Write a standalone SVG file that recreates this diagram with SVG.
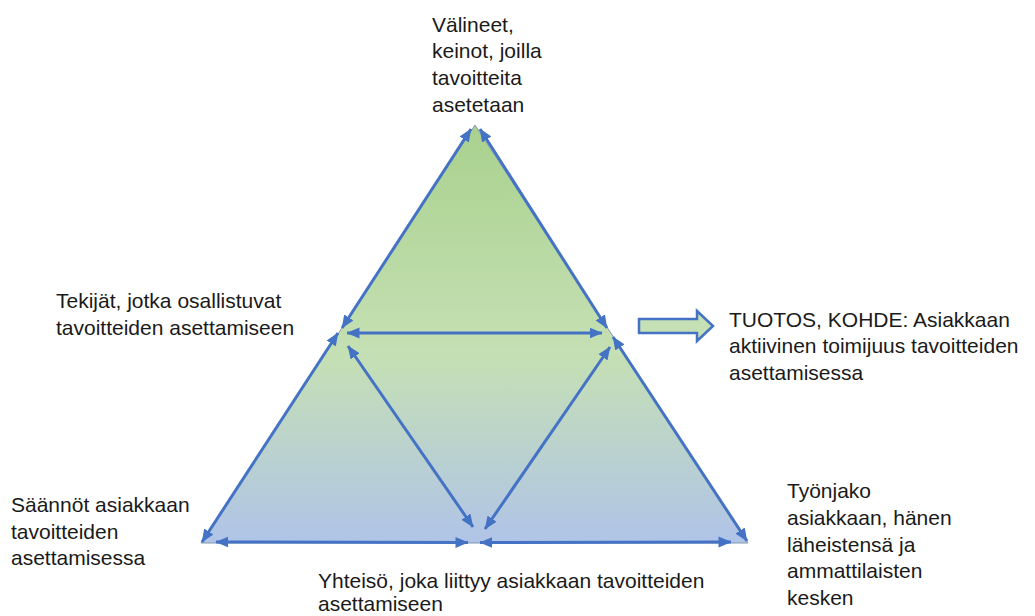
<svg xmlns="http://www.w3.org/2000/svg" width="1035" height="616" viewBox="0 0 1035 616">
  <style>
    .lbl { font-family: "Liberation Sans", Arial, sans-serif; font-size: 21px; fill: #1a1a1a; }
    .link { stroke: #4472c4; stroke-width: 3; fill: none; marker-start: url(#head); marker-end: url(#head); }
  </style>
  <defs>
    <linearGradient id="fillGrad" x1="0" y1="0" x2="0" y2="1">
      <stop offset="0" stop-color="#a9d18e"/>
      <stop offset="0.55" stop-color="#c5e0b4"/>
      <stop offset="1" stop-color="#b0c4e8"/>
    </linearGradient>
    <marker id="head" markerUnits="userSpaceOnUse" viewBox="0 0 13 12" markerWidth="13" markerHeight="12" refX="12.5" refY="6" orient="auto-start-reverse">
      <path d="M0,0.5 L13,6 L0,11.5 z" fill="#4472c4"/>
    </marker>
  </defs>

  <rect width="1035" height="616" fill="#ffffff"/>

  <!-- activity triangle -->
  <g id="triangle">
    <polygon points="475,125 201,543 748,543" fill="url(#fillGrad)" stroke="#8497b0" stroke-width="1"/>
  </g>

  <!-- relations between the corners and edge midpoints -->
  <g id="connectors">
    <line class="link" x1="471" y1="129" x2="342" y2="328"/>
    <line class="link" x1="480" y1="129" x2="607" y2="328"/>
    <line class="link" x1="338" y1="333" x2="202" y2="542"/>
    <line class="link" x1="613" y1="337" x2="747" y2="541"/>
    <line class="link" x1="347" y1="333" x2="602" y2="333"/>
    <line class="link" x1="348" y1="346" x2="473" y2="527"/>
    <line class="link" x1="610" y1="347" x2="485" y2="529"/>
    <line class="link" x1="216" y1="542" x2="468" y2="542.5"/>
    <line class="link" x1="480" y1="542.5" x2="731" y2="542"/>
  </g>

  <!-- outcome arrow -->
  <g id="outcome-arrow">
    <polygon points="639,319 697,319 697,311 713,326 697,341 697,333 639,333" fill="#c5e0b4" stroke="#4472c4" stroke-width="2.5" stroke-linejoin="miter"/>
  </g>

  <g id="node-tools">
    <text class="lbl" x="432" y="31.5">Välineet,</text>
    <text class="lbl" x="432" y="58.2">keinot, joilla</text>
    <text class="lbl" x="432" y="85">tavoitteita</text>
    <text class="lbl" x="432" y="111.7">asetetaan</text>
  </g>

  <g id="node-subjects">
    <text class="lbl" x="56" y="308">Tekijät, jotka osallistuvat</text>
    <text class="lbl" x="56" y="335">tavoitteiden asettamiseen</text>
  </g>

  <g id="node-outcome">
    <text class="lbl" x="729" y="327">TUOTOS, KOHDE: Asiakkaan</text>
    <text class="lbl" x="729" y="353">aktiivinen toimijuus tavoitteiden</text>
    <text class="lbl" x="729" y="379.5">asettamisessa</text>
  </g>

  <g id="node-rules">
    <text class="lbl" x="11" y="512">Säännöt asiakkaan</text>
    <text class="lbl" x="11" y="538.5">tavoitteiden</text>
    <text class="lbl" x="11" y="565">asettamisessa</text>
  </g>

  <g id="node-division">
    <text class="lbl" x="787" y="498">Työnjako</text>
    <text class="lbl" x="787" y="525">asiakkaan, hänen</text>
    <text class="lbl" x="787" y="551.5">läheistensä ja</text>
    <text class="lbl" x="787" y="578">ammattilaisten</text>
    <text class="lbl" x="787" y="604.5">kesken</text>
  </g>

  <g id="node-community">
    <text class="lbl" x="318" y="588">Yhteisö, joka liittyy asiakkaan tavoitteiden</text>
    <text class="lbl" x="318" y="611">asettamiseen</text>
  </g>
</svg>
